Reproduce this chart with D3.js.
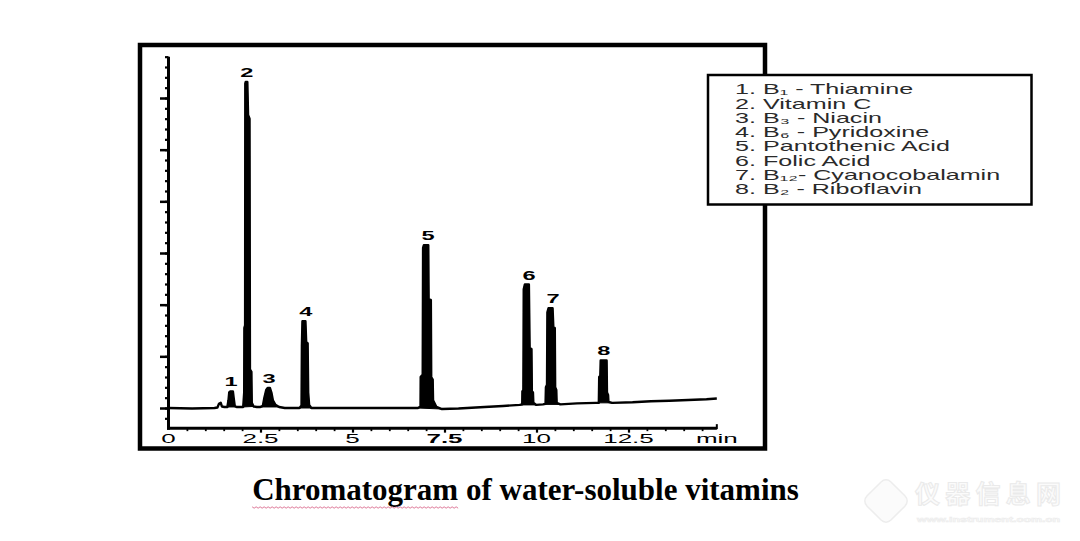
<!DOCTYPE html>
<html>
<head>
<meta charset="utf-8">
<script src="https://cdn.jsdelivr.net/npm/d3@7"></script>
<style>
  html, body { margin: 0; padding: 0; background: #fff; }
  svg { display: block; }
</style>
</head>
<body>
<div id="chart"></div>
<script>
// Peaks: number, label position (min), and the time window of each peak
const peakNumbers = [1, 2, 3, 4, 5, 6, 7, 8];
const peakTimes = [1.70, 2.13, 2.73, 3.73, 7.05, 9.80, 10.45, 11.83];
const peakStart = [1.6, 2.03, 2.5, 3.56, 6.777, 9.542, 10.176, 11.603];
const peakEnd = [1.85, 2.313, 3.007, 3.882, 7.431, 9.995, 10.648, 12.056];

// Legend names
const compounds = [
  'B₁ - Thiamine',
  'Vitamin C',
  'B₃ - Niacin',
  'B₆ - Pyridoxine',
  'Pantothenic Acid',
  'Folic Acid',
  'B₁₂- Cyanocobalamin',
  'B₂ - Riboflavin'
];

// Detector trace: [time (min), signal (major y divisions)]
const trace = [
  [0, 0], [0.64, -0.01], [1.25, 0], [1.33, 0.01], [1.37, 0.08], [1.42, 0.1], [1.45, 0.03], [1.52, 0.02],
  [1.6, 0.02], [1.63, 0.15], [1.65, 0.3], [1.68, 0.32], [1.75, 0.32], [1.77, 0.2], [1.8, 0.04], [1.85, 0.02],
  [1.93, 0.02],
  [2.03, 0.02], [2.057, 0.3], [2.062, 1.55], [2.082, 1.6], [2.087, 6.28], [2.097, 6.31], [2.142, 6.31],
  [2.162, 5.67], [2.202, 5.6], [2.213, 0.75], [2.253, 0.7], [2.263, 0.1], [2.313, 0.03],
  [2.4, 0.02],
  [2.5, 0.02], [2.564, 0.04], [2.605, 0.2], [2.655, 0.35], [2.695, 0.39], [2.755, 0.39], [2.796, 0.3],
  [2.836, 0.15], [2.906, 0.06], [3.007, 0.02],
  [3.16, 0],
  [3.56, 0], [3.615, 0.05], [3.625, 1.2], [3.64, 1.68], [3.721, 1.68], [3.741, 1.28], [3.781, 1.25],
  [3.796, 0.3], [3.821, 0.06], [3.882, 0],
  [5.07, 0],
  [6.777, 0], [6.848, 0.03], [6.853, 0.6], [6.908, 0.65], [6.918, 3.1], [6.938, 3.15], [7.059, 3.15],
  [7.069, 2.1], [7.129, 2.09], [7.139, 0.6], [7.179, 0.55], [7.189, 0.15], [7.28, 0.02], [7.431, -0.02],
  [7.88, -0.01], [8.59, 0.02], [9.09, 0.04],
  [9.542, 0.06], [9.612, 0.07], [9.617, 0.32], [9.643, 0.35], [9.653, 2.3], [9.683, 2.39], [9.793, 2.39],
  [9.814, 1.16], [9.864, 1.14], [9.874, 0.32], [9.904, 0.3], [9.914, 0.1], [9.995, 0.06],
  [10.176, 0.07], [10.246, 0.08], [10.256, 0.4], [10.286, 0.45], [10.296, 1.85], [10.326, 1.93],
  [10.437, 1.93], [10.457, 1.57], [10.497, 1.55], [10.507, 0.4], [10.538, 0.35], [10.548, 0.1], [10.648, 0.07],
  [11.1, 0.09],
  [11.603, 0.1], [11.694, 0.1], [11.704, 0.6], [11.734, 0.62], [11.744, 0.92], [11.905, 0.92],
  [11.915, 0.3], [11.945, 0.25], [11.955, 0.12], [12.056, 0.1],
  [12.61, 0.11], [13.11, 0.13], [13.61, 0.14], [14.12, 0.155], [14.62, 0.17], [14.9, 0.185]
];

// Axis ticks
const xTicks = [0, 2.5, 5, 7.5, 10, 12.5];
const xTickLabels = ['0', '2.5', '5', '7.5', '10', '12.5'];
const xUnit = 'min';
const xEnd = 14.9;
const yTicks = [0, 1, 2, 3, 4, 5, 6];

const title = 'Chromatogram of water-soluble vitamins';

const width = 1080;
const height = 541;

const svg = d3.select('#chart')
  .append('svg')
  .attr('width', width)
  .attr('height', height)
  .attr('viewBox', `0 0 ${width} ${height}`);

const x = d3.scaleLinear().domain([0, 15]).range([168.5, 720.5]);
const y = d3.scaleLinear().domain([0, 6]).range([408, 98]);

// Outer frame of the chart picture
svg.append('rect')
  .attr('x', 140).attr('y', 45)
  .attr('width', 625).attr('height', 403.5)
  .attr('fill', 'none')
  .attr('stroke', '#000')
  .attr('stroke-width', 4.5);

const plot = svg.append('g');

// Y axis: major ticks, minor ticks, and the line
plot.append('g')
  .attr('transform', `translate(${x(0)},0)`)
  .call(d3.axisLeft(y).tickValues(yTicks).tickSize(8.5).tickFormat(''))
  .call(g => g.select('.domain').remove())
  .call(g => g.selectAll('line').attr('stroke-width', 2.5));

plot.append('g')
  .attr('transform', `translate(${x(0)},0)`)
  .call(d3.axisLeft(y).tickValues(d3.range(-0.2, 6.81, 0.2)).tickSize(3.5).tickFormat(''))
  .call(g => g.select('.domain').remove())
  .call(g => g.selectAll('line').attr('stroke-width', 2.2));

plot.append('line')
  .attr('x1', x(0)).attr('x2', x(0))
  .attr('y1', y(6.8)).attr('y2', y(-0.42))
  .attr('stroke', '#000').attr('stroke-width', 3);

// X axis
const xAxisY = y(-0.39);
plot.append('g')
  .attr('transform', `translate(0,${xAxisY})`)
  .call(d3.axisBottom(x).tickValues(d3.range(0.5, 14.9, 0.5)).tickSize(3).tickFormat(''))
  .call(g => g.select('.domain').remove())
  .call(g => g.selectAll('line').attr('stroke-width', 1.8));

plot.append('g')
  .attr('transform', `translate(0,${xAxisY})`)
  .call(d3.axisBottom(x).tickValues(xTicks.slice(1)).tickSize(4.5).tickFormat(''))
  .call(g => g.select('.domain').remove())
  .call(g => g.selectAll('line').attr('stroke-width', 2.2));

plot.append('line')
  .attr('x1', x(0) - 1.5).attr('x2', x(xEnd))
  .attr('y1', xAxisY).attr('y2', xAxisY)
  .attr('stroke', '#000').attr('stroke-width', 3);

plot.append('line')
  .attr('x1', x(xEnd)).attr('x2', x(xEnd))
  .attr('y1', xAxisY + 1).attr('y2', xAxisY - 4)
  .attr('stroke', '#000').attr('stroke-width', 2);

const labelSx = 2.0; // the chart picture is stretched sideways
const xLabels = plot.append('g')
  .attr('font-family', 'Liberation Sans, Arial, sans-serif')
  .attr('font-size', 13)
  .attr('fill', '#000');

xTicks.forEach((t, i) => {
  xLabels.append('text')
    .attr('transform', `translate(${x(t)},443) scale(${labelSx},1)`)
    .attr('text-anchor', 'middle')
    .attr('font-weight', xTickLabels[i] === '7.5' ? 'bold' : 'normal')
    .text(xTickLabels[i]);
});
xLabels.append('text')
  .attr('transform', `translate(${x(xEnd)},443) scale(${labelSx},1)`)
  .attr('text-anchor', 'middle')
  .text(xUnit);

// Trace
const line = d3.line()
  .x(d => x(d[0]))
  .y(d => y(d[1]));

const inPeak = i => d => d[0] >= peakStart[i] - 1e-6 && d[0] <= peakEnd[i] + 1e-6;

// Peaks are filled so they look like solid bars
peakNumbers.forEach((n, i) => {
  plot.append('path')
    .attr('d', line(trace.filter(inPeak(i))) + 'Z')
    .attr('fill', '#000')
    .attr('stroke', '#000')
    .attr('stroke-width', 1);
});

plot.append('path')
  .datum(trace)
  .attr('d', line)
  .attr('fill', 'none')
  .attr('stroke', '#000')
  .attr('stroke-width', 2.4)
  .attr('stroke-linejoin', 'round');

// Peak numbers
const peakLabels = plot.append('g')
  .attr('font-family', 'Liberation Sans, Arial, sans-serif')
  .attr('font-size', 13.5)
  .attr('font-weight', 'bold')
  .attr('fill', '#000');

peakNumbers.forEach((n, i) => {
  const top = d3.max(trace.filter(inPeak(i)), d => d[1]);
  peakLabels.append('text')
    .attr('transform', `translate(${x(peakTimes[i])},${y(top) - 5}) scale(1.75,1)`)
    .attr('text-anchor', 'middle')
    .text(n);
});

// Legend
const legend = svg.append('g');
legend.append('rect')
  .attr('x', 708).attr('y', 75)
  .attr('width', 323.5).attr('height', 129.5)
  .attr('fill', '#fff')
  .attr('stroke', '#000')
  .attr('stroke-width', 2.5);

const legendText = legend.append('g')
  .attr('font-family', 'Liberation Sans, Arial, sans-serif')
  .attr('font-size', 14)
  .attr('fill', '#2a2a2a');

// find the sideways stretch from the widest plain line
const probe = legendText.append('text').text('Pantothenic Acid');
const legendSx = 187 / probe.node().getComputedTextLength();
probe.remove();

compounds.forEach((name, i) => {
  const row = legendText.append('g')
    .attr('transform', `translate(735,${94.3 + i * 14.29}) scale(${legendSx},1)`);
  row.append('text').attr('x', 0).text(`${i + 1}.`);
  row.append('text').attr('x', (763 - 735) / legendSx).text(name);
});

// Caption
const caption = svg.append('text')
  .attr('x', 525.5).attr('y', 500)
  .attr('text-anchor', 'middle')
  .attr('font-family', 'Liberation Serif, Times New Roman, serif')
  .attr('font-size', 31)
  .attr('font-weight', 'bold')
  .attr('fill', '#000')
  .text(title);

// spell-check squiggle under the first word
const bb = caption.node().getBBox();
const firstLen = caption.node().getSubStringLength(0, title.indexOf(' '));
const sq = [];
for (let px = bb.x; px <= bb.x + firstLen; px += 2) {
  sq.push([px, 507 + ((Math.round((px - bb.x) / 2) % 2) ? 1.2 : -0.2)]);
}
svg.append('path')
  .attr('d', d3.line()(sq))
  .attr('fill', 'none')
  .attr('stroke', '#d86a8c')
  .attr('stroke-width', 0.9);

// Faint watermark
const wm = svg.append('g');
wm.append('rect')
  .attr('x', -17).attr('y', -17)
  .attr('width', 34).attr('height', 34)
  .attr('rx', 7)
  .attr('transform', 'translate(886,501) rotate(45)')
  .attr('fill', '#fbfbfb')
  .attr('stroke', '#ededed')
  .attr('stroke-width', 1.5);
wm.append('text')
  .attr('x', 988).attr('y', 503)
  .attr('text-anchor', 'middle')
  .attr('font-family', 'Noto Sans CJK SC, sans-serif')
  .attr('font-size', 25)
  .attr('font-weight', 'bold')
  .attr('fill', '#fbfbfb')
  .attr('stroke', '#eaeaea')
  .attr('stroke-width', 1)
  .attr('textLength', 146)
  .text('仪器信息网');
wm.append('text')
  .attr('x', 917).attr('y', 522)
  .attr('font-family', 'Liberation Sans, Arial, sans-serif')
  .attr('font-size', 8)
  .attr('font-weight', 'bold')
  .attr('fill', '#fbfbfb')
  .attr('stroke', '#ededed')
  .attr('stroke-width', 0.6)
  .attr('textLength', 143)
  .attr('lengthAdjust', 'spacingAndGlyphs')
  .text('www.instrument.com.cn');
</script>
</body>
</html>
